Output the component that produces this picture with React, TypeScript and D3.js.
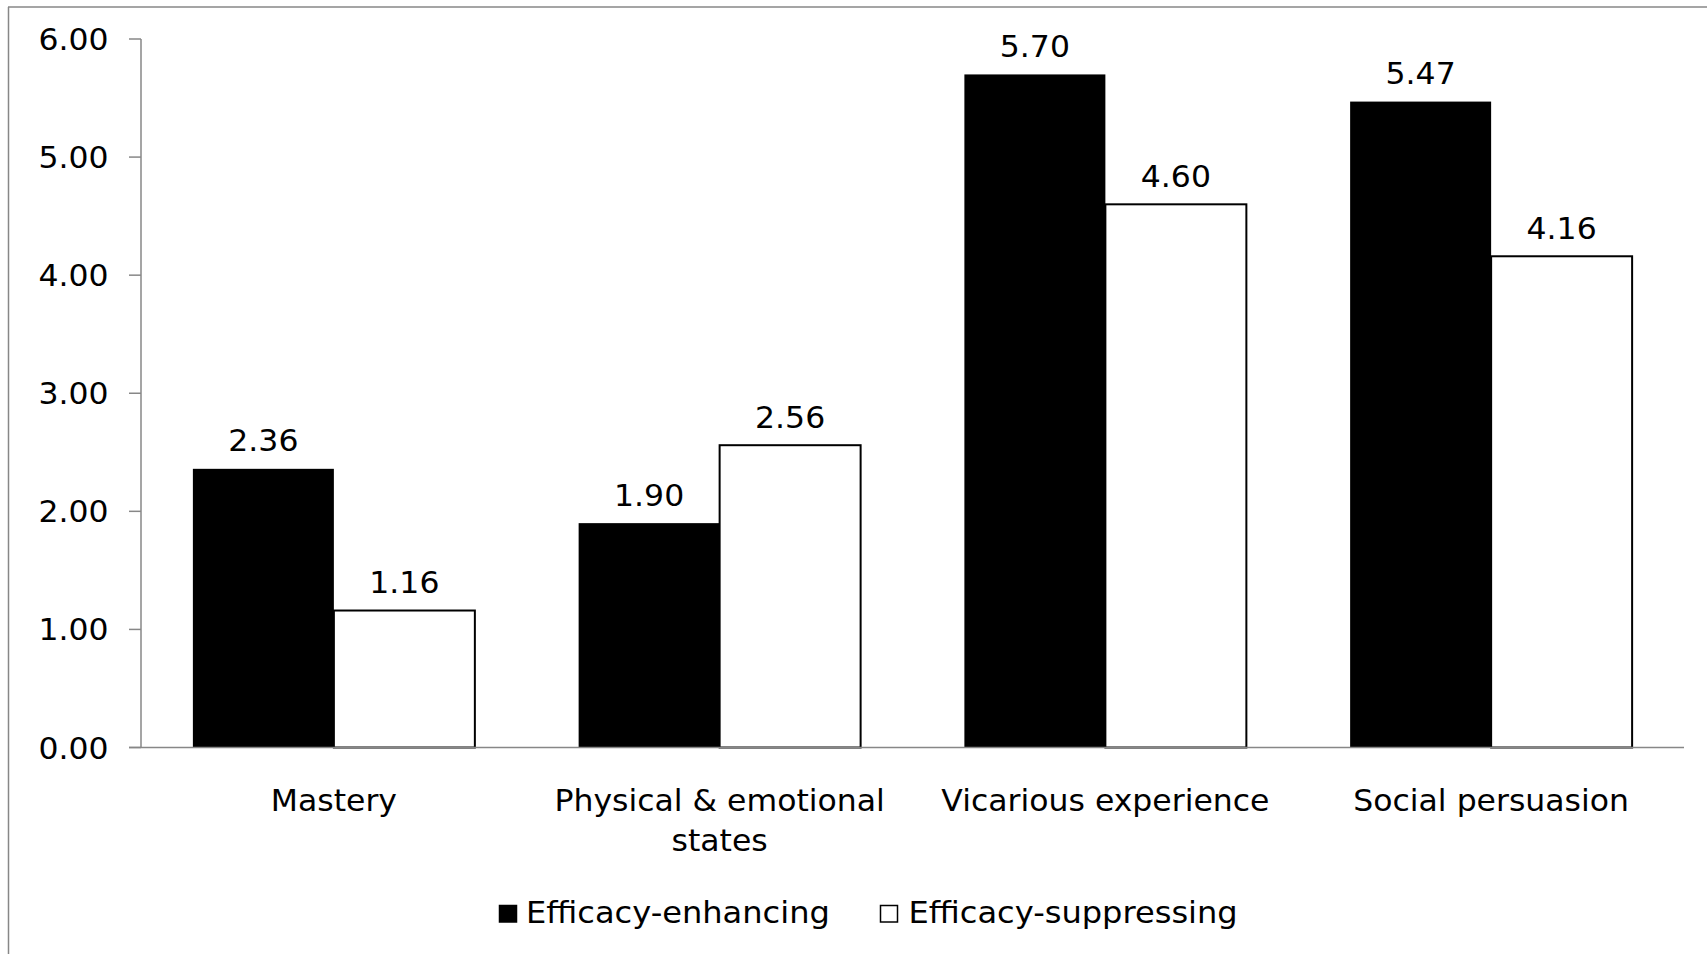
import React from "react";
import * as d3 from "d3";

// Source categories and mean scores for the two feedback conditions
const categories = ["Mastery", "Physical & emotional states", "Vicarious experience", "Social persuasion"];
const categoryLines = [["Mastery"], ["Physical & emotional", "states"], ["Vicarious experience"], ["Social persuasion"]];
const seriesNames = ["Efficacy-enhancing", "Efficacy-suppressing"];
const enhancing = [2.36, 1.9, 5.7, 5.47];
const suppressing = [1.16, 2.56, 4.6, 4.16];
const yTicks = [0, 1, 2, 3, 4, 5, 6];

const W = 1707;
const H = 954;
const FONT = "'DejaVu Sans', Verdana, sans-serif";
const AXIS = "#878787";
const FS = 30;
const STRETCH = 1.05;

const plot = { left: 141, right: 1684, top: 39, bottom: 747.5 };

type TProps = {
  x: number;
  y: number;
  anchor?: "start" | "middle" | "end";
  stretch?: number;
  children: React.ReactNode;
};

// Text drawn with a slightly wide set, anchored at (x, y)
function T({ x, y, anchor = "start", stretch = STRETCH, children }: TProps) {
  return (
    <text
      transform={`translate(${x},${y}) scale(${stretch},1)`}
      textAnchor={anchor}
      fontSize={FS}
      fill="#000"
    >
      {children}
    </text>
  );
}

export default function App() {
  const x0 = d3.scaleBand<string>().domain(categories).range([plot.left, plot.right]).padding(0);
  const bw = x0.bandwidth();
  const barW = bw / 2.736;
  const gap = bw - 2 * barW;
  const x1 = d3.scaleBand<string>().domain(seriesNames).range([gap / 2, bw - gap / 2]).padding(0);
  const y = d3.scaleLinear().domain([0, 6]).range([plot.bottom, plot.top]);

  const series = [
    { name: seriesNames[0], values: enhancing, fill: "#000" },
    { name: seriesNames[1], values: suppressing, fill: "#fff" },
  ];

  const legend = [
    { name: seriesNames[0], fill: "#000", box: 499.5, tx: 526 },
    { name: seriesNames[1], fill: "#fff", box: 880.5, tx: 908.5 },
  ];

  return (
    <svg
      width={W}
      height={H}
      style={{ position: "absolute", left: 0, top: 0, background: "#fff", overflow: "hidden" }}
      fontFamily={FONT}
    >
      <rect x={0} y={0} width={W} height={H} fill="#fff" />
      {/* chart frame (left and top edges) */}
      <line x1={8.5} x2={8.5} y1={7} y2={H + 10} stroke={AXIS} strokeWidth={1.5} />
      <line x1={8} x2={W + 10} y1={7} y2={7} stroke={AXIS} strokeWidth={1.5} />

      {/* bars */}
      {series.map((s) =>
        categories.map((c, i) => {
          const bx = (x0(c) as number) + (x1(s.name) as number);
          const top = y(s.values[i]);
          return (
            <rect
              key={s.name + c}
              x={bx}
              y={top}
              width={x1.bandwidth()}
              height={plot.bottom - top}
              fill={s.fill}
              stroke="#000"
              strokeWidth={s.fill === "#fff" ? 2 : 0}
            />
          );
        })
      )}

      {/* value labels */}
      {series.map((s) =>
        categories.map((c, i) => {
          const cx = (x0(c) as number) + (x1(s.name) as number) + x1.bandwidth() / 2;
          return (
            <T key={"l" + s.name + c} x={cx} y={y(s.values[i]) - 17.5} anchor="middle">
              {s.values[i].toFixed(2)}
            </T>
          );
        })
      )}

      {/* y axis */}
      <line x1={plot.left} x2={plot.left} y1={plot.top} y2={plot.bottom} stroke={AXIS} strokeWidth={1.5} />
      {yTicks.map((t) => (
        <g key={"t" + t}>
          <line x1={129} x2={plot.left} y1={y(t)} y2={y(t)} stroke={AXIS} strokeWidth={1.5} />
          <T x={108.5} y={y(t) + 11} anchor="end">
            {t.toFixed(2)}
          </T>
        </g>
      ))}

      {/* x axis */}
      <line x1={129} x2={plot.right} y1={plot.bottom} y2={plot.bottom} stroke={AXIS} strokeWidth={1.5} />
      {categories.map((c, i) =>
        categoryLines[i].map((line, j) => (
          <T key={"c" + c + j} x={(x0(c) as number) + bw / 2} y={811 + j * 40} anchor="middle">
            {line}
          </T>
        ))
      )}

      {/* legend */}
      {legend.map((l) => (
        <g key={"lg" + l.name}>
          <rect x={l.box} y={905.5} width={17} height={16.5} fill={l.fill} stroke="#000" strokeWidth={1.5} />
          <T x={l.tx} y={922.5} stretch={1.07}>
            {l.name}
          </T>
        </g>
      ))}
    </svg>
  );
}
